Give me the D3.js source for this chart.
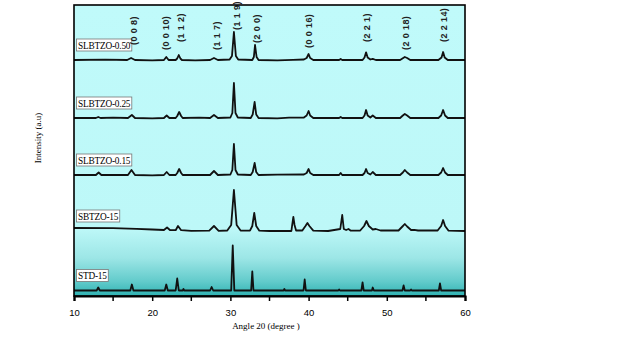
<!DOCTYPE html>
<html>
<head>
<meta charset="utf-8">
<script src="https://cdn.jsdelivr.net/npm/d3@7"></script>
<style>
  body { margin: 0; background: #fff; }
  svg { display: block; }
</style>
</head>
<body>
<svg id="chart" width="621" height="342"></svg>
<script>
// sample names, bottom to top, and their vertical offsets (a.u.)
const samples = ['STD-15', 'SBTZO-15', 'SLBTZO-0.15', 'SLBTZO-0.25', 'SLBTZO-0.50'];
const offsets = [55, 650, 1210, 1780, 2360];

// patterns as [2θ, intensity above own baseline]
const std15 = [[10,0],[12.9,0],[13.1,30],[13.3,0],[17.2,0],[17.4,60],[17.6,0],[21.6,0],[21.8,60],[22.0,0],
  [23.0,0],[23.2,120],[23.4,0],[23.9,0],[24.0,15],[24.1,0],[27.4,0],[27.6,35],[27.8,0],[30.1,0],[30.3,450],
  [30.5,0],[32.65,0],[32.8,190],[32.95,0],[36.8,0],[36.9,15],[37.0,0],[39.35,0],[39.5,110],[39.65,0],
  [43.8,0],[43.9,10],[44.0,0],[46.75,0],[46.9,80],[47.05,0],[48.1,0],[48.2,30],[48.35,0],[52.0,0],
  [52.15,50],[52.3,0],[53.0,0],[53.1,10],[53.2,0],[56.65,0],[56.8,70],[56.95,0],[60,0]];

const sbtzo15 = [[10,30],[15,28],[18,22],[20,15],[21.5,10],[21.9,35],[22.3,8],[23.0,8],[23.3,50],[23.7,8],
  [25,2],[27.3,3],[27.9,50],[28.5,2],[29.6,5],[30.1,60],[30.45,410],[30.8,60],[31.3,5],[32.5,3],[32.8,50],
  [33.05,180],[33.3,50],[33.7,3],[35,0],[37.8,0],[37.9,60],[38.05,140],[38.2,60],[38.4,5],[39.2,5],
  [39.6,50],[39.85,80],[40.1,50],[40.6,3],[42.5,0],[44.05,20],[44.3,160],[44.5,20],[44.8,10],[45.1,20],
  [45.4,3],[46.6,5],[47.1,50],[47.4,100],[47.7,50],[48.2,15],[48.6,20],[49.2,5],[51.5,5],[52.0,45],
  [52.3,70],[52.6,45],[53.1,10],[53.5,12],[54,5],[56.5,5],[56.95,50],[57.2,110],[57.45,50],[57.9,3],[60,0]];

const sl015 = [[10,0],[12.8,0],[13.15,25],[13.5,0],[16.9,0],[17.35,50],[17.8,0],[20,-3],[21.5,0],[21.85,30],
  [22.2,0],[23.0,0],[23.2,20],[23.45,60],[23.7,20],[23.9,0],[27.4,0],[27.9,40],[28.4,0],[30.0,5],[30.25,50],
  [30.45,310],[30.65,50],[30.95,5],[32.6,0],[32.85,30],[33.1,120],[33.3,30],[33.6,0],[36,3],[39.4,5],
  [39.75,20],[40.0,60],[40.2,20],[40.6,0],[43.9,0],[44.1,20],[44.3,0],[46.9,0],[47.15,20],[47.35,60],
  [47.55,20],[47.9,5],[48.2,30],[48.6,0],[51.7,0],[52.05,25],[52.3,50],[52.6,25],[53,0],[56.6,0],
  [56.95,25],[57.2,70],[57.45,25],[57.8,0],[60,0]];

const sl025 = [[10,0],[12.8,0],[13.1,10],[13.4,0],[15,3],[16.9,0],[17.4,30],[17.8,0],[20,-3],[21.5,0],
  [21.85,25],[22.2,0],[23.0,0],[23.2,20],[23.45,60],[23.7,20],[23.9,0],[26,3],[27.4,0],[27.9,30],[28.4,0],
  [30.0,5],[30.25,50],[30.45,350],[30.65,50],[30.95,5],[32.6,0],[32.85,35],[33.1,160],[33.3,35],[33.6,0],
  [36,-3],[37.5,3],[39.4,5],[39.75,25],[40.0,70],[40.2,25],[40.6,0],[43.9,0],[44.1,10],[44.3,0],[46.9,0],
  [47.15,25],[47.35,80],[47.55,25],[47.9,5],[48.2,25],[48.6,0],[51.7,0],[52.05,25],[52.3,40],[52.6,25],
  [53,0],[56.6,0],[56.95,25],[57.2,80],[57.45,25],[57.8,0],[60,0]];

const sl050 = [[10,0],[14,3],[16.8,0],[17.3,20],[17.8,0],[20,-3],[21.5,0],[21.8,30],[22.1,0],[23.0,0],
  [23.2,15],[23.4,50],[23.6,15],[23.8,0],[25.5,-3],[27.4,0],[27.9,20],[28.4,0],[29.9,5],[30.2,40],
  [30.45,280],[30.7,40],[31.0,5],[32.8,0],[33.0,30],[33.15,150],[33.35,30],[33.6,0],[36,-3],[38,2],
  [39.4,5],[39.75,20],[40.0,60],[40.2,20],[40.6,0],[43.9,0],[44.1,10],[44.3,0],[46.9,0],[47.15,25],
  [47.35,77],[47.55,25],[47.9,5],[48.2,12],[48.6,0],[51.7,0],[52.1,20],[52.3,30],[52.6,20],[53,0],
  [56.6,0],[57.0,25],[57.2,80],[57.4,25],[57.8,0],[60,0]];

const patterns = [std15, sbtzo15, sl015, sl025, sl050];

// Miller indices of the top pattern
const hklLabels = ['(0 0 8)', '(0 0 10)', '(1 1 2)', '(1 1 7)', '(1 1 9)', '(2 0 0)', '(0 0 16)', '(2 2 1)', '(2 0 18)', '(2 2 14)'];
const hklAngles = [17.7, 21.8, 23.7, 28.3, 30.85, 33.4, 40.05, 47.45, 52.45, 57.3];
const hklLevels = [2510, 2460, 2540, 2460, 2660, 2530, 2480, 2540, 2460, 2540];

const xTicks = [10, 20, 30, 40, 50, 60];
const xMinor = [15, 25, 35, 45, 55];

const M = { top: 5, right: 156, bottom: 46, left: 74 };
const W = 621, H = 342;
const w = W - M.left - M.right, h = H - M.top - M.bottom;

const svg = d3.select('#chart');
const defs = svg.append('defs');
const grad = defs.append('linearGradient').attr('id', 'bg').attr('x1', 0).attr('x2', 0).attr('y1', 0).attr('y2', 1);
[[0, '#c0fafa'], [0.77, '#bdf8f8'], [0.87, '#9ce6e6'], [0.95, '#62cbcb'], [1, '#2fb2b2']]
  .forEach(([o, c]) => grad.append('stop').attr('offset', o).attr('stop-color', c));
defs.append('clipPath').attr('id', 'clip').append('rect').attr('width', w).attr('height', h);

const g = svg.append('g').attr('transform', `translate(${M.left},${M.top})`);

const x = d3.scaleLinear().domain([10, 60]).range([0, w]);
const y = d3.scaleLinear().domain([0, 2910]).range([h, 0]);

g.append('rect').attr('width', w).attr('height', h).attr('fill', 'url(#bg)');

const line = d3.line().x(d => x(d[0])).y(d => y(d[1]));
const curves = g.append('g').attr('clip-path', 'url(#clip)');
patterns.forEach((pts, i) => {
  curves.append('path')
    .attr('d', line(pts.map(p => [p[0], p[1] + offsets[i]])))
    .attr('fill', 'none').attr('stroke', '#111').attr('stroke-width', 1.8)
    .attr('stroke-linejoin', 'round');
});

// sample name boxes
samples.forEach((name, i) => {
  const by = y(offsets[i]) - 9;
  const lg = g.append('g');
  const t = lg.append('text').attr('x', 4).attr('y', by - 2.5)
    .attr('font-family', 'Liberation Serif, Times New Roman, serif').attr('font-size', 9.3)
    .attr('letter-spacing', -0.2).attr('fill', '#000').text(name);
  const tw = t.node().getComputedTextLength();
  lg.insert('rect', 'text').attr('x', 2.5).attr('y', by - 12).attr('width', tw + 3).attr('height', 12)
    .attr('fill', '#fff').attr('stroke', '#777').attr('stroke-width', 0.8);
});

// hkl labels
hklLabels.forEach((lab, i) => {
  g.append('text')
    .attr('transform', `translate(${x(hklAngles[i])},${y(hklLevels[i])}) rotate(-90)`)
    .attr('dy', '0.35em')
    .attr('font-family', 'Liberation Sans, Arial, sans-serif').attr('font-size', 9)
    .attr('letter-spacing', 0.4).attr('font-weight', 'bold').attr('fill', '#222').text(lab);
});

// frame
g.append('rect').attr('width', w).attr('height', h).attr('fill', 'none')
  .attr('stroke', '#000').attr('stroke-width', 1.6);

// x axis
const ax = g.append('g').attr('transform', `translate(0,${h})`);
ax.call(d3.axisBottom(x).tickValues(xTicks).tickSize(5).tickPadding(8).tickFormat(d3.format('d')));
ax.call(a => a.append('g').selectAll('line').data(xMinor).join('line')
  .attr('x1', d => x(d)).attr('x2', d => x(d)).attr('y1', 0).attr('y2', 5).attr('stroke', '#000').attr('stroke-width', 1.5));
ax.select('.domain').attr('stroke-width', 2.2);
ax.selectAll('.tick line').attr('stroke-width', 1.5);
ax.selectAll('.tick text').attr('font-family', 'Liberation Sans, Arial, sans-serif').attr('font-size', 9.5).attr('fill', '#000');

// axis titles
svg.append('text').attr('x', 266).attr('y', 329).attr('text-anchor', 'middle')
  .attr('font-family', 'Liberation Serif, Times New Roman, serif').attr('font-size', 9).text('Angle 20 (degree )');
svg.append('text').attr('transform', 'translate(41,138) rotate(-90)').attr('text-anchor', 'middle')
  .attr('font-family', 'Liberation Serif, Times New Roman, serif').attr('font-size', 9).text('Intensity (a.u)');
</script>
</body>
</html>
